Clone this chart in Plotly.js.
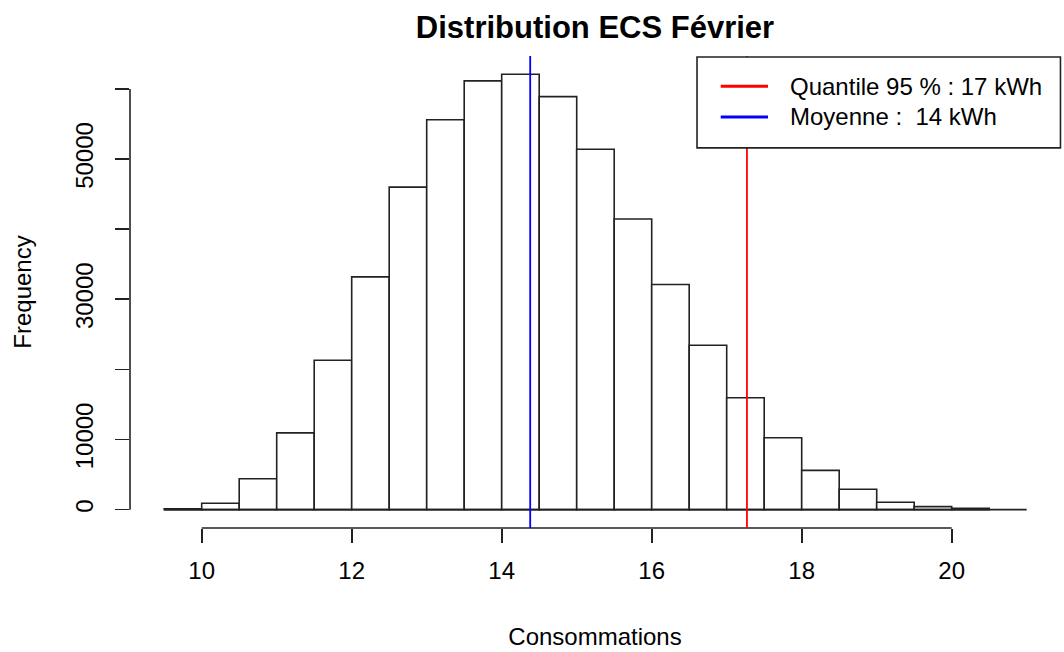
<!DOCTYPE html>
<html>
<head>
<meta charset="utf-8">
<script src="https://cdn.plot.ly/plotly-3.0.1.min.js"></script>
<style>html,body{margin:0;padding:0;background:#fff;}#chart{width:1064px;height:652px;}</style>
</head>
<body>
<div id="chart"></div>
<script>
// Histogram bins (lower edges, width 0.5) and counts
const binStarts = [9.5, 10, 10.5, 11, 11.5, 12, 12.5, 13, 13.5, 14, 14.5, 15, 15.5, 16, 16.5, 17, 17.5, 18, 18.5, 19, 19.5, 20];
const counts = [120, 900, 4400, 10950, 21300, 33200, 46000, 55600, 61150, 62100, 58900, 51400, 41450, 32100, 23450, 15950, 10250, 5600, 2900, 1050, 430, 180];
const binWidth = 0.5;
const meanValue = 14.38;
const quantile95 = 17.27;
const legendLabels = ["Quantile 95 % : 17 kWh", "Moyenne :  14 kWh"];
const legendColors = ["#ff0000", "#0000ff"];
const xTicks = [10, 12, 14, 16, 18, 20];
const yTicks = [0, 10000, 20000, 30000, 40000, 50000, 60000];
const yTickText = ["0", "10000", "", "30000", "", "50000", ""];

const FONT = "Liberation Sans, Arial, sans-serif";

const bars = {
  type: "bar",
  x: binStarts,
  y: counts,
  width: binStarts.map(() => binWidth),
  offset: 0,
  marker: {color: "#ffffff", line: {color: "#222222", width: 1.6}},
  hoverinfo: "skip",
  showlegend: false
};

const shapes = [
  // baseline
  {type: "line", xref: "x", yref: "y", x0: 9.5, x1: 21, y0: 0, y1: 0, line: {color: "#222222", width: 1.6}},
  // x axis line
  {type: "line", xref: "x", yref: "paper", x0: xTicks[0], x1: xTicks[xTicks.length - 1], y0: 0, y1: 0, line: {color: "#222222", width: 1.6}},
  // y axis line
  {type: "line", xref: "paper", yref: "y", x0: 0, x1: 0, y0: yTicks[0], y1: yTicks[yTicks.length - 1], line: {color: "#222222", width: 1.6}},
  // vertical lines
  {type: "line", xref: "x", yref: "paper", x0: quantile95, x1: quantile95, y0: 0, y1: 1, line: {color: legendColors[0], width: 1.8}},
  {type: "line", xref: "x", yref: "paper", x0: meanValue, x1: meanValue, y0: 0, y1: 1, line: {color: legendColors[1], width: 1.8}},
  // legend box
  {type: "rect", xref: "paper", yref: "paper", x0: 0.6097, x1: 1.0005, y0: 0.8053, y1: 0.998, fillcolor: "#ffffff", line: {color: "#222222", width: 1.6}, layer: "above"},
  {type: "line", xref: "paper", yref: "paper", x0: 0.6352, x1: 0.6860, y0: 0.936, y1: 0.936, line: {color: legendColors[0], width: 3}, layer: "above"},
  {type: "line", xref: "paper", yref: "paper", x0: 0.6352, x1: 0.6860, y0: 0.871, y1: 0.871, line: {color: legendColors[1], width: 3}, layer: "above"}
];

const annotations = legendLabels.map((t, i) => ({
  text: t, xref: "paper", yref: "paper", x: 0.7075, y: i === 0 ? 0.936 : 0.871,
  xanchor: "left", yanchor: "middle", showarrow: false,
  font: {family: FONT, size: 24, color: "#000000"}
}));

const layout = {
  width: 1064, height: 652,
  margin: {l: 130, r: 4, t: 56, b: 124, pad: 0},
  paper_bgcolor: "#ffffff", plot_bgcolor: "#ffffff",
  font: {family: FONT, size: 24, color: "#000000"},
  title: {text: "<b>Distribution ECS Février</b>", font: {family: FONT, size: 31, color: "#000000"}, x: 0.5, xref: "paper", xanchor: "center", y: 0.958, yref: "container", yanchor: "middle"},
  xaxis: {
    range: [9.044, 21.444], showgrid: false, zeroline: false, showline: false,
    tickmode: "array", tickvals: xTicks, ticktext: xTicks.map(String),
    ticks: "outside", ticklen: 14, tickwidth: 1.6, tickcolor: "#222222",
    ticklabelstandoff: 7,
    tickfont: {family: FONT, size: 24, color: "#000000"},
    title: {text: "Consommations", font: {family: FONT, size: 24, color: "#000000"}, standoff: 45}
  },
  yaxis: {
    range: [-2620, 64700], showgrid: false, zeroline: false, showline: false,
    tickmode: "array", tickvals: yTicks, ticktext: yTickText, tickangle: -90,
    ticks: "outside", ticklen: 14, tickwidth: 1.6, tickcolor: "#222222",
    ticklabelstandoff: 12,
    tickfont: {family: FONT, size: 24, color: "#000000"},
    title: {text: "Frequency", font: {family: FONT, size: 24, color: "#000000"}, standoff: 33}
  },
  shapes: shapes,
  annotations: annotations,
  showlegend: false,
  hovermode: false,
  bargap: 0
};

Plotly.newPlot("chart", [bars], layout, {staticPlot: true, displayModeBar: false});
</script>
</body>
</html>
